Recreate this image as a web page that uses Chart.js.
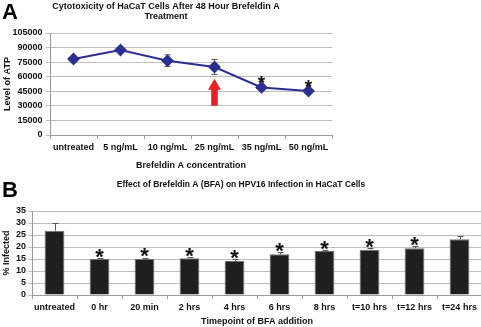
<!DOCTYPE html>
<html>
<head>
<meta charset="utf-8">
<script src="https://cdn.jsdelivr.net/npm/chart.js@4"></script>
<style>
  html,body{margin:0;padding:0;background:#fff;}
  body{width:481px;height:327px;overflow:hidden;position:relative;font-family:"Liberation Sans",Arial,sans-serif;}
  .panel{position:absolute;left:0;}
  .letter{position:absolute;left:2px;font:bold 22px/22px "Liberation Sans",Arial,sans-serif;color:#000;}
</style>
</head>
<body>
<div class="panel" style="top:0;width:481px;height:172px;"><canvas id="ca" width="481" height="172"></canvas></div>
<div class="panel" style="top:172px;width:490px;height:155px;"><canvas id="cb" width="490" height="155"></canvas></div>
<div class="letter" style="top:1px;">A</div>
<div class="letter" style="top:179px;">B</div>
<script>
// ---------- Panel A data ----------
const doses = ['untreated', '5 ng/mL', '10 ng/mL', '25 ng/mL', '35 ng/mL', '50 ng/mL'];
const atpLevel = [78200, 87500, 76500, 70000, 49000, 45300];
const atpError = [1200, 1500, 6000, 7800, 1200, 1200];
const atpStar = [false, false, false, false, true, true];
const arrowDose = '25 ng/mL';
const arrowFrom = 30000;
const arrowTo = 58000;
const atpTicks = [0, 15000, 30000, 45000, 60000, 75000, 90000, 105000];

// ---------- Panel B data ----------
const timepoints = ['untreated', '0 hr', '20 min', '2 hrs', '4 hrs', '6 hrs', '8 hrs', 't=10 hrs', 't=12 hrs', 't=24 hrs'];
const infected = [26.8, 15.0, 15.0, 15.3, 14.2, 17.0, 18.3, 18.9, 19.5, 23.2];
const infectedError = [3.1, 0.4, 0.6, 0.5, 0.6, 0.8, 0.5, 0.7, 0.8, 1.3];
const infectedStar = [false, true, true, true, true, true, true, true, true, false];
const infectedTicks = [0, 5, 10, 15, 20, 25, 30, 35];

const FONT = '"Liberation Sans", Arial, sans-serif';
Chart.defaults.font.family = FONT;
Chart.defaults.color = '#000';

function drawStar(ctx, x, yCenter, size) {
  ctx.save();
  ctx.fillStyle = '#111';
  ctx.font = 'bold ' + size + 'px ' + FONT;
  ctx.textAlign = 'center';
  ctx.textBaseline = 'alphabetic';
  ctx.fillText('*', x, yCenter + 0.58 * size);
  ctx.restore();
}

const panelAPlugin = {
  id: 'panelA',
  beforeDatasetsDraw(chart) {
    const ctx = chart.ctx, xs = chart.scales.x, ys = chart.scales.y;
    ctx.save();
    ctx.strokeStyle = '#555';
    ctx.lineWidth = 1;
    atpLevel.forEach((v, i) => {
      const x = xs.getPixelForValue(i);
      const y1 = ys.getPixelForValue(v + atpError[i]);
      const y2 = ys.getPixelForValue(v - atpError[i]);
      ctx.beginPath();
      ctx.moveTo(x, y1); ctx.lineTo(x, y2);
      ctx.moveTo(x - 3, y1); ctx.lineTo(x + 3, y1);
      ctx.moveTo(x - 3, y2); ctx.lineTo(x + 3, y2);
      ctx.stroke();
    });
    ctx.restore();
  },
  afterDatasetsDraw(chart) {
    const ctx = chart.ctx, xs = chart.scales.x, ys = chart.scales.y;
    atpLevel.forEach((v, i) => {
      if (atpStar[i]) {
        drawStar(ctx, xs.getPixelForValue(i), ys.getPixelForValue(v) - 9, 19);
      }
    });
    // red arrow
    const ax = xs.getPixelForValue(doses.indexOf(arrowDose));
    const yb = ys.getPixelForValue(arrowFrom);
    const yt = ys.getPixelForValue(arrowTo);
    const headH = 11, headW = 6.5, shaftW = 3.3;
    ctx.save();
    ctx.fillStyle = '#e8202a';
    ctx.beginPath();
    ctx.moveTo(ax - shaftW, yb);
    ctx.lineTo(ax - shaftW, yt + headH);
    ctx.lineTo(ax - headW, yt + headH);
    ctx.lineTo(ax, yt);
    ctx.lineTo(ax + headW, yt + headH);
    ctx.lineTo(ax + shaftW, yt + headH);
    ctx.lineTo(ax + shaftW, yb);
    ctx.closePath();
    ctx.fill();
    ctx.restore();
  }
};

const panelBPlugin = {
  id: 'panelB',
  afterDatasetsDraw(chart) {
    const ctx = chart.ctx, xs = chart.scales.x, ys = chart.scales.y;
    ctx.save();
    ctx.strokeStyle = '#555';
    ctx.lineWidth = 1;
    infected.forEach((v, i) => {
      const x = Math.round(xs.getPixelForValue(i)) + 0.5;
      const y0 = ys.getPixelForValue(v);
      const y1 = Math.round(ys.getPixelForValue(v + infectedError[i])) + 0.5;
      ctx.beginPath();
      ctx.moveTo(x, y0); ctx.lineTo(x, y1);
      ctx.moveTo(x - 3, y1); ctx.lineTo(x + 3, y1);
      ctx.stroke();
    });
    ctx.restore();
    infected.forEach((v, i) => {
      if (infectedStar[i]) {
        drawStar(ctx, xs.getPixelForValue(i), ys.getPixelForValue(v + infectedError[i]) - 7, 22);
      }
    });
  }
};

const gridColor = '#bdbdbd';
const axisColor = '#9a9a9a';

new Chart(document.getElementById('ca'), {
  type: 'line',
  data: {
    labels: doses,
    datasets: [{
      data: atpLevel,
      borderColor: '#2b2f8f',
      backgroundColor: '#2b2f8f',
      borderWidth: 2,
      pointStyle: 'rectRot',
      pointRadius: 5,
      pointHoverRadius: 5,
      tension: 0,
      fill: false
    }]
  },
  options: {
    responsive: false,
    devicePixelRatio: 1,
    animation: false,
    events: [],
    layout: { padding: { left: 0, right: 149, top: 0, bottom: 0 } },
    plugins: {
      legend: { display: false },
      tooltip: { enabled: false },
      title: {
        display: true,
        text: ['Cytotoxicity of HaCaT Cells After 48 Hour Brefeldin A', 'Treatment'],
        font: { size: 9, weight: 'bold', lineHeight: 1.15 },
        color: '#111',
        padding: { top: 1, bottom: 11.3 }
      }
    },
    scales: {
      x: {
        offset: true,
        afterFit(s) { s.height = 37; },
        grid: { display: true, drawOnChartArea: false, drawTicks: true, tickLength: 4, offset: true, color: axisColor },
        border: { display: true, color: axisColor },
        ticks: { font: { size: 9, weight: 'bold' }, color: '#111', padding: 3.5, maxRotation: 0, autoSkip: false },
        title: { display: true, text: 'Brefeldin A concentration', font: { size: 9, weight: 'bold' }, color: '#111', padding: { top: 0, bottom: 1.5 } }
      },
      y: {
        min: 0, max: 105000,
        afterFit(s) { s.width = 50; },
        afterBuildTicks(s) { s.ticks = atpTicks.map(v => ({ value: v })); },
        grid: { color: gridColor, tickLength: 4, drawTicks: true },
        border: { display: true, color: axisColor },
        ticks: { font: { size: 9, weight: 'bold' }, color: '#111', padding: 3.5, autoSkip: false, callback: v => String(v) },
        title: { display: true, text: 'Level of ATP', font: { size: 9, weight: 'bold' }, color: '#111', padding: { top: 2.5, bottom: 0 } }
      }
    }
  },
  plugins: [panelAPlugin]
});

new Chart(document.getElementById('cb'), {
  type: 'bar',
  data: {
    labels: timepoints,
    datasets: [{
      data: infected,
      backgroundColor: '#1f1f1f',
      borderColor: '#6e6e6e',
      borderWidth: 1,
      categoryPercentage: 1,
      barPercentage: 0.44
    }]
  },
  options: {
    responsive: false,
    devicePixelRatio: 1,
    animation: false,
    events: [],
    layout: { padding: { left: 0, right: 8, top: 0, bottom: 0 } },
    plugins: {
      legend: { display: false },
      tooltip: { enabled: false },
      title: {
        display: true,
        text: 'Effect of Brefeldin A (BFA) on HPV16 Infection in HaCaT Cells',
        font: { size: 8.5, weight: 'bold', lineHeight: 1.2 },
        color: '#111',
        padding: { top: 7.9, bottom: 20.9 }
      }
    },
    scales: {
      x: {
        afterFit(s) { s.height = 32; },
        grid: { display: true, drawOnChartArea: false, drawTicks: true, tickLength: 4, offset: true, color: axisColor },
        border: { display: true, color: axisColor },
        ticks: { font: { size: 9, weight: 'bold' }, color: '#111', padding: 2.7, maxRotation: 0, autoSkip: false },
        title: { display: true, text: 'Timepoint of BFA addition', font: { size: 9, weight: 'bold' }, color: '#111', padding: { top: 0, bottom: 0 } }
      },
      y: {
        min: 0, max: 35,
        afterFit(s) { s.width = 32; },
        afterBuildTicks(s) { s.ticks = infectedTicks.map(v => ({ value: v })); },
        grid: { color: gridColor, tickLength: 4, drawTicks: true },
        border: { display: true, color: axisColor },
        ticks: { font: { size: 9, weight: 'bold' }, color: '#111', padding: 2, autoSkip: false },
        title: { display: true, text: '% Infected', font: { size: 9, weight: 'bold' }, color: '#111', padding: { top: 1.6, bottom: 0 } }
      }
    }
  },
  plugins: [panelBPlugin]
});
</script>
</body>
</html>
